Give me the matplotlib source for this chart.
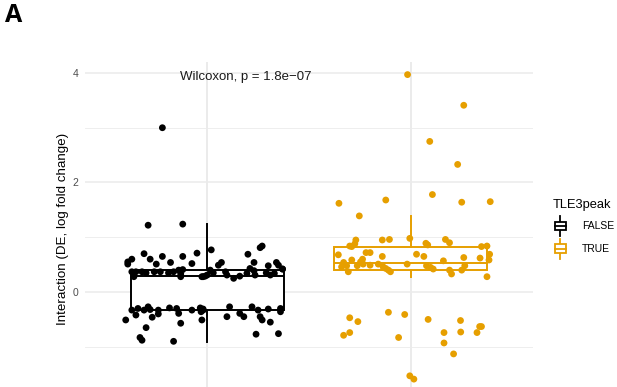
import matplotlib
matplotlib.use("Agg")
import matplotlib.pyplot as plt
from matplotlib.legend_handler import HandlerBase
from matplotlib.patches import Rectangle, Patch
from matplotlib.lines import Line2D

plt.rcParams['font.family'] = ['Liberation Sans', 'DejaVu Sans']

# ---------------- data ----------------
groups = ["FALSE", "TRUE"]
group_colors = ["#000000", "#E69F00"]
legend_title = "TLE3peak"
ylabel = "Interaction (DE, log fold change)"
test_label = "Wilcoxon, p = 1.8e\u221207"
yticks = [0, 2, 4]
yminor = [-1, 1, 3]

# box statistics: (whislo, q1, med, q3, whishi)
false_box = [-0.91, -0.33, 0.29, 0.40, 1.25]
true_box = [0.28, 0.40, 0.53, 0.82, 1.38]

# jittered points: horizontal jitter offset and value
false_dx = [-0.22, -0.29, -0.12, -0.31, -0.28, -0.25, -0.22, -0.18, -0.12, -0.075, -0.05,
            -0.39, -0.39, -0.37, 0.02, 0.20, 0.26, 0.27, 0.07, 0.055, 0.23, 0.34, 0.35,
            0.30, 0.21, 0.37,
            -0.37, -0.36, -0.35, -0.32, -0.30, -0.26, -0.23, -0.19, -0.165, -0.14, -0.13,
            -0.12, -0.13, -0.02, 0.0,
            -0.026, -0.01, 0.015, 0.03, 0.09, 0.097, 0.13, 0.16, 0.195, 0.23, 0.235, 0.29,
            0.31, 0.33, 0.37,
            -0.37, -0.35, -0.34, -0.31, -0.29, -0.28, -0.27, -0.24, -0.24, -0.185, -0.15,
            -0.14, -0.075, -0.034, -0.02, -0.03, -0.40, -0.30, -0.33, -0.32, -0.165, -0.13,
            -0.026,
            -0.02, 0.11, 0.097, 0.16, 0.18, 0.22, 0.25, 0.26, 0.27, 0.30, 0.31, 0.36, 0.36,
            0.24, 0.35]
false_val = [3.00, 1.22, 1.24, 0.70, 0.60, 0.51, 0.65, 0.54, 0.65, 0.52, 0.71,
             0.55, 0.51, 0.60, 0.77, 0.69, 0.81, 0.84, 0.54, 0.49, 0.54, 0.54, 0.49,
             0.48, 0.43, 0.42,
             0.37, 0.28, 0.37, 0.37, 0.35, 0.37, 0.37, 0.35, 0.37, 0.40, 0.33,
             0.41, 0.28, 0.28, 0.31,
             0.28, 0.29, 0.40, 0.35, 0.37, 0.31, 0.25, 0.29, 0.34, 0.39, 0.31, 0.35,
             0.31, 0.34, 0.42,
             -0.33, -0.42, -0.30, -0.33, -0.27, -0.32, -0.46, -0.33, -0.40, -0.29, -0.30,
             -0.39, -0.33, -0.29, -0.31, -0.36, -0.51, -0.65, -0.83, -0.88, -0.90, -0.57,
             -0.51,
             -0.33, -0.27, -0.45, -0.39, -0.45, -0.27, -0.33, -0.45, -0.51, -0.31, -0.55,
             -0.30, -0.36, -0.77, -0.76]

true_dx = [-0.016, 0.26, 0.093, 0.23, 0.106, -0.353, -0.123, -0.253, 0.25, 0.39,
           -0.29, -0.27, -0.275, -0.30, -0.14, -0.105, -0.005, -0.22, -0.20, -0.356,
           -0.14, 0.028, -0.29, -0.237, -0.247, -0.33, -0.34, -0.315, -0.307, -0.263,
           -0.234, -0.20, -0.16, -0.136, -0.123, -0.11, -0.10, -0.018, 0.074, 0.083,
           0.17, 0.19, 0.347, 0.374, 0.387, 0.384, 0.064, 0.26, 0.34, 0.16, 0.077,
           0.097, 0.11, 0.19, 0.25, 0.265, 0.20, 0.374,
           -0.30, -0.26, -0.33, -0.30, -0.11, -0.03, -0.06, 0.085, 0.163, 0.163, 0.21,
           0.244, 0.245, 0.325, 0.338, 0.347, -0.005, 0.015]
true_val = [3.97, 3.41, 2.75, 2.33, 1.78, 1.62, 1.68, 1.39, 1.64, 1.65,
            0.83, 0.95, 0.88, 0.84, 0.95, 0.96, 0.98, 0.72, 0.72, 0.68,
            0.65, 0.69, 0.585, 0.60, 0.55, 0.54, 0.46, 0.48, 0.37, 0.48,
            0.51, 0.49, 0.51, 0.46, 0.43, 0.40, 0.37, 0.51, 0.89, 0.86,
            0.96, 0.90, 0.83, 0.84, 0.69, 0.585, 0.65, 0.63, 0.62, 0.57, 0.48,
            0.45, 0.42, 0.40, 0.40, 0.48, 0.33, 0.28,
            -0.47, -0.54, -0.79, -0.74, -0.37, -0.41, -0.83, -0.50, -0.74, -0.93, -1.13,
            -0.52, -0.73, -0.74, -0.63, -0.63, -1.53, -1.59]

# ---------------- figure ----------------
W, H = 617, 387
fig = plt.figure(figsize=(W / 100, H / 100), dpi=100)
ax = fig.add_axes([85 / W, 1 - 395 / H, 448 / W, (395 - 62) / H])

ax.set_xlim(0.4, 2.6)
ax.set_ylim(-1.88, 4.20)
for s in ax.spines.values():
    s.set_visible(False)

ax.set_yticks(yticks)
ax.set_yticklabels([str(t) for t in yticks])
ax.set_yticks(yminor, minor=True)
ax.set_xticks([1, 2])
ax.tick_params(axis='x', which='both', labelbottom=False, length=0)
ax.tick_params(axis='y', which='both', length=0)
ax.tick_params(axis='y', labelsize=7.5, labelcolor='#4D4D4D', pad=5)
ax.grid(True, which='major', color='#EBEBEB', lw=1.1, zorder=0)
ax.grid(True, which='minor', axis='y', color='#EBEBEB', lw=0.6, zorder=0)
ax.set_axisbelow(True)

box_stats = [false_box, true_box]
for i, (st, col) in enumerate(zip(box_stats, group_colors)):
    lo, q1, med, q3, hi = st
    ax.bxp([dict(whislo=lo, q1=q1, med=med, q3=q3, whishi=hi, fliers=[])],
           positions=[i + 1], widths=0.75, showfliers=False, showcaps=False,
           patch_artist=True,
           boxprops=dict(facecolor='white', edgecolor=col, linewidth=1.4),
           medianprops=dict(color=col, linewidth=1.4),
           whiskerprops=dict(color=col, linewidth=1.4),
           zorder=2)

pts = [(false_dx, false_val), (true_dx, true_val)]
for i, ((dx, v), col) in enumerate(zip(pts, group_colors)):
    ax.scatter([i + 1 + d for d in dx], v, s=24, color=col, edgecolors='none', zorder=3)

ax.text(0.868, 3.93, test_label, ha='left', va='center', fontsize=9.5, color='#1A1A1A')
ax.set_ylabel(ylabel, fontsize=9.6, color='black', labelpad=2)

fig.text(5 / W, 1 - 3 / H, "A", fontsize=18, fontweight='bold', family='Open Sans',
         ha='left', va='top')


class BoxHandler(HandlerBase):
    def create_artists(self, legend, orig_handle, xdescent, ydescent, width, height,
                       fontsize, trans):
        col = orig_handle.get_edgecolor()
        bw = width * 0.75
        x0 = -xdescent + (width - bw) / 2
        x1 = x0 + bw
        y0, y1 = -ydescent - 1.5, -ydescent + height + 1.5
        xc = (x0 + x1) / 2
        bh = height * 0.55
        by0 = -ydescent + (height - bh) / 2
        rect = Rectangle((x0, by0), bw, bh, facecolor='white', edgecolor=col,
                         lw=1.3, transform=trans)
        med = Line2D([x0, x1], [by0 + bh / 2] * 2, color=col, lw=1.3, transform=trans)
        w1 = Line2D([xc, xc], [y0, by0], color=col, lw=1.3, transform=trans)
        w2 = Line2D([xc, xc], [by0 + bh, y1], color=col, lw=1.3, transform=trans)
        return [w1, w2, rect, med]


handles = [Patch(facecolor='white', edgecolor=c) for c in group_colors]
leg = fig.legend(handles, groups, handler_map={Patch: BoxHandler()},
                 loc='upper left', bbox_to_anchor=(553 / W, 1 - 199 / H),
                 frameon=False, title=legend_title, title_fontsize=9.3, fontsize=7.5,
                 handlelength=1.4, handleheight=1.9, handletextpad=1.4,
                 labelspacing=0.7, borderpad=0, borderaxespad=0)
leg._legend_box.align = "left"

fig.savefig("out.png", dpi=100)
